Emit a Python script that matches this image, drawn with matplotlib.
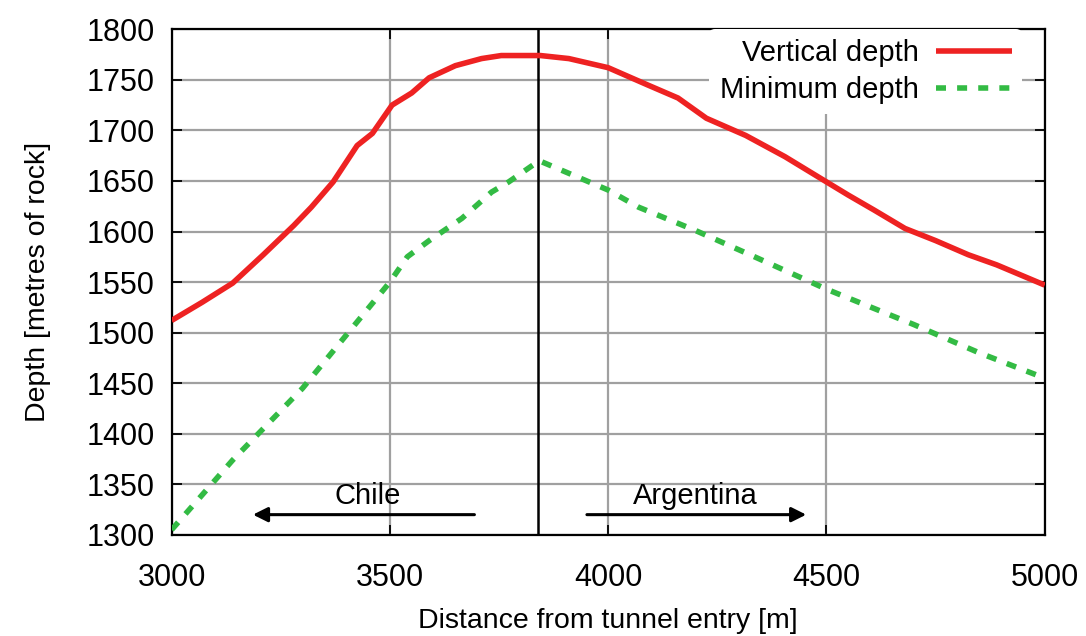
import matplotlib.pyplot as plt
import numpy as np

plt.rcParams['font.family'] = ['Liberation Sans', 'DejaVu Sans']

# vertical depth (red)
vert_x = [3000, 3070, 3140, 3210, 3280, 3320, 3370, 3425, 3460, 3505, 3550,
          3590, 3650, 3710, 3755, 3845, 3910, 4000, 4090, 4160, 4225, 4315,
          4405, 4485, 4550, 4610, 4680, 4750, 4825, 4890, 5000]
vert_y = [1512, 1530, 1549, 1577, 1606, 1624, 1649, 1685, 1697, 1725, 1737,
          1752, 1764, 1771, 1774, 1774, 1771, 1762, 1745, 1732, 1712, 1695,
          1674, 1653, 1636, 1621, 1603, 1591, 1577, 1567, 1547]

# minimum depth (green)
min_x = [3000, 3140, 3300, 3500, 3540, 3590, 3665, 3733, 3772, 3842,
         4000, 4070, 4200, 4325, 4500, 4700, 4850, 5000]
min_y = [1305, 1374, 1445, 1550, 1575, 1591, 1613, 1639, 1649, 1670,
         1641, 1624, 1601, 1577, 1543, 1508, 1480, 1455]

border_x = 3840

fig = plt.figure(figsize=(10.86, 6.36), dpi=100)
ax = fig.add_axes([0.158, 0.159, 0.804, 0.795])

ax.plot(vert_x, vert_y, color='#ee2222', lw=4.0, label='Vertical depth',
        solid_capstyle='butt', zorder=3)
ax.plot(min_x, min_y, color='#33bb44', lw=4.0, ls=(0, (1.8, 2.0)),
        label='Minimum depth', zorder=3)
ax.axvline(border_x, color='black', lw=1.8, zorder=2)

ax.annotate('', xy=(3180, 1320), xytext=(3700, 1320),
            arrowprops=dict(arrowstyle='-|>', color='black', lw=2.2,
                            mutation_scale=22))
ax.annotate('', xy=(4460, 1320), xytext=(3945, 1320),
            arrowprops=dict(arrowstyle='-|>', color='black', lw=2.2,
                            mutation_scale=22))
ax.text(3450, 1338, 'Chile', ha='center', va='center', fontsize=21)
ax.text(4200, 1338, 'Argentina', ha='center', va='center', fontsize=21)

ax.set_xlim(3000, 5000)
ax.set_ylim(1300, 1800)
ax.set_xticks(np.arange(3000, 5001, 500))
ax.set_yticks(np.arange(1300, 1801, 50))
ax.tick_params(direction='in', top=True, right=True, labelsize=22,
               length=7, width=1.3)
ax.tick_params(axis='x', pad=20)
ax.tick_params(axis='y', pad=12)
ax.grid(True, color='#a0a0a0', lw=1.6, zorder=1)
for s in ax.spines.values():
    s.set_linewidth(1.6)

ax.set_xlabel('Distance from tunnel entry [m]', fontsize=20.5, labelpad=11)
ax.set_ylabel('Depth [metres of rock]', fontsize=20.5, labelpad=26)

leg = ax.legend(loc='upper right', bbox_to_anchor=(0.974, 1.0), fontsize=21,
                frameon=True, markerfirst=False, handlelength=2.6,
                borderaxespad=0, borderpad=0.35, handletextpad=0.6,
                labelspacing=0.3)
leg.get_frame().set_facecolor('white')
leg.get_frame().set_edgecolor('none')
leg.get_frame().set_alpha(1)
for t in leg.get_texts():
    t.set_ha('right')

fig.savefig('out.png', dpi=100)
